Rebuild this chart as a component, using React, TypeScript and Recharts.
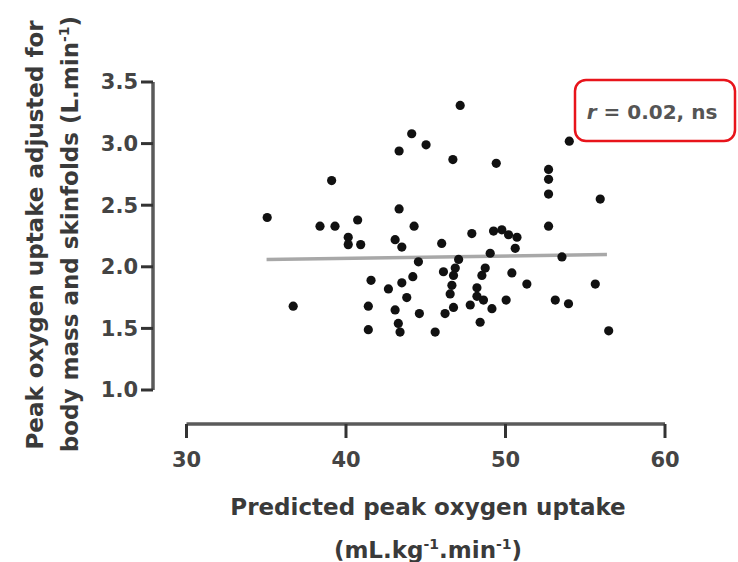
import React from 'react';
import {
  ScatterChart,
  Scatter,
  XAxis,
  YAxis,
  ReferenceLine,
  Customized,
} from 'recharts';

// predicted peak VO2 (mL.kg-1.min-1)
const predicted = [
  35.06, 36.69, 39.1, 38.37, 39.31, 40.14, 40.14, 40.92, 40.73, 43.33,
  44.12, 45.02, 47.16, 46.7, 49.42, 43.33, 44.27, 43.08, 43.5, 46.0,
  47.89, 49.25, 49.77, 50.19, 50.72, 50.61, 49.04, 44.54, 47.06, 46.85,
  46.74, 46.64, 46.53, 46.11, 46.74, 46.21, 48.73, 48.52, 48.21, 48.21,
  47.79, 48.62, 49.15, 50.4, 51.34, 50.04, 48.41, 45.59, 41.57, 42.66,
  43.5, 44.19, 43.81, 41.4, 43.08, 44.6, 41.4, 43.28, 43.39, 53.54,
  55.63, 53.12, 53.95, 56.47, 54.0, 52.7, 52.7, 52.7, 55.94, 52.7,
];

// adjusted peak VO2 (L.min-1)
const adjusted = [
  2.4, 1.68, 2.7, 2.33, 2.33, 2.24, 2.18, 2.18, 2.38, 2.94,
  3.08, 2.99, 3.31, 2.87, 2.84, 2.47, 2.33, 2.22, 2.16, 2.19,
  2.27, 2.29, 2.3, 2.26, 2.24, 2.15, 2.11, 2.04, 2.06, 1.99,
  1.93, 1.85, 1.78, 1.96, 1.67, 1.62, 1.99, 1.93, 1.83, 1.76,
  1.69, 1.73, 1.66, 1.95, 1.86, 1.73, 1.55, 1.47, 1.89, 1.82,
  1.87, 1.92, 1.75, 1.68, 1.65, 1.62, 1.49, 1.54, 1.47, 2.08,
  1.86, 1.73, 1.7, 1.48, 3.02, 2.79, 2.71, 2.59, 2.55, 2.33,
];

// regression line end points
const fitX = [35.02, 56.36];
const fitY = [2.06, 2.1];

const xTicks = [30, 40, 50, 60];
const yTicks = [1.0, 1.5, 2.0, 2.5, 3.0, 3.5];

const X_MIN = 27.9;
const Y_MIN = 0.724;

const points = predicted.map((x, i) => ({ x, y: adjusted[i] }));
const fit = fitX.map((x, i) => ({ x, y: fitY[i] }));

const FONT = '"DejaVu Sans", sans-serif';
const AXIS = '#5a5a5a';
const TEXT = '#3a3a3a';

const Dot = (p: any) => <circle cx={p.cx} cy={p.cy} r={4.6} fill="#111" />;

const YTitle = () => (
  <g fontFamily={FONT} fontWeight="bold" fontSize={23} fill={TEXT} textAnchor="middle">
    <text transform="translate(35,235) rotate(-90)" dy="0.35em">
      Peak oxygen uptake adjusted for
    </text>
    <text transform="translate(70,234) rotate(-90)" dy="0.35em">
      body mass and skinfolds (L.min
      <tspan fontSize={14} dy={-9}>-1</tspan>
      <tspan dy={9}>)</tspan>
    </text>
  </g>
);

const XTitle = () => (
  <g fontFamily={FONT} fontWeight="bold" fontSize={23} fill={TEXT} textAnchor="middle">
    <text x={428} y={507} dy="0.35em">
      Predicted peak oxygen uptake
    </text>
    <text x={428} y={550} dy="0.35em">
      (mL.kg<tspan fontSize={14} dy={-9}>-1</tspan>
      <tspan dy={9}>.min</tspan>
      <tspan fontSize={14} dy={-9}>-1</tspan>
      <tspan dy={9}>)</tspan>
    </text>
  </g>
);

const StatBox = () => (
  <g>
    <rect x={575} y={80} width={160} height={61} rx={11} fill="#fff" stroke="#e8141b" strokeWidth={2.5} />
    <text x={652} y={112} dy="0.35em" textAnchor="middle" fontFamily={FONT} fontWeight="bold" fontSize={20} fill="#555">
      <tspan fontStyle="italic">r</tspan> = 0.02, ns
    </text>
  </g>
);

export default function App() {
  return (
    <div style={{ position: 'absolute', left: 0, top: 0, background: '#fff' }}>
      <ScatterChart
        width={738}
        height={562}
        margin={{ top: 82, right: 73, bottom: 108, left: 93 }}
      >
        <XAxis
          type="number"
          dataKey="x"
          domain={[X_MIN, 60]}
          ticks={xTicks}
          allowDataOverflow
          axisLine={false}
          tickLine={{ stroke: '#333', strokeWidth: 3 }}
          tickSize={14}
          tickMargin={14}
          height={30}
          tick={{ fontFamily: FONT, fontWeight: 'bold', fontSize: 21, fill: '#444' }}
          label={{ content: () => <XTitle /> }}
        />
        <YAxis
          type="number"
          dataKey="y"
          domain={[Y_MIN, 3.5]}
          ticks={yTicks}
          allowDataOverflow
          axisLine={false}
          tickLine={{ stroke: '#333', strokeWidth: 3 }}
          tickSize={12}
          tickMargin={3}
          width={60}
          tickFormatter={(v: number) => v.toFixed(1)}
          tick={{ fontFamily: FONT, fontWeight: 'bold', fontSize: 21, fill: '#444' }}
          label={{ content: () => <YTitle /> }}
        />
        <ReferenceLine
          segment={[{ x: 30, y: Y_MIN }, { x: 60, y: Y_MIN }]}
          stroke={AXIS}
          strokeWidth={3.5}
          ifOverflow="visible"
        />
        <ReferenceLine
          segment={[{ x: X_MIN, y: 1.0 }, { x: X_MIN, y: 3.5 }]}
          stroke={AXIS}
          strokeWidth={3.5}
          ifOverflow="visible"
        />
        <Scatter
          data={fit}
          line={{ stroke: '#a8a8a8', strokeWidth: 3.5 }}
          shape={() => <g />}
          isAnimationActive={false}
        />
        <Scatter data={points} shape={Dot} isAnimationActive={false} />
        <Customized component={<StatBox />} />
      </ScatterChart>
    </div>
  );
}
